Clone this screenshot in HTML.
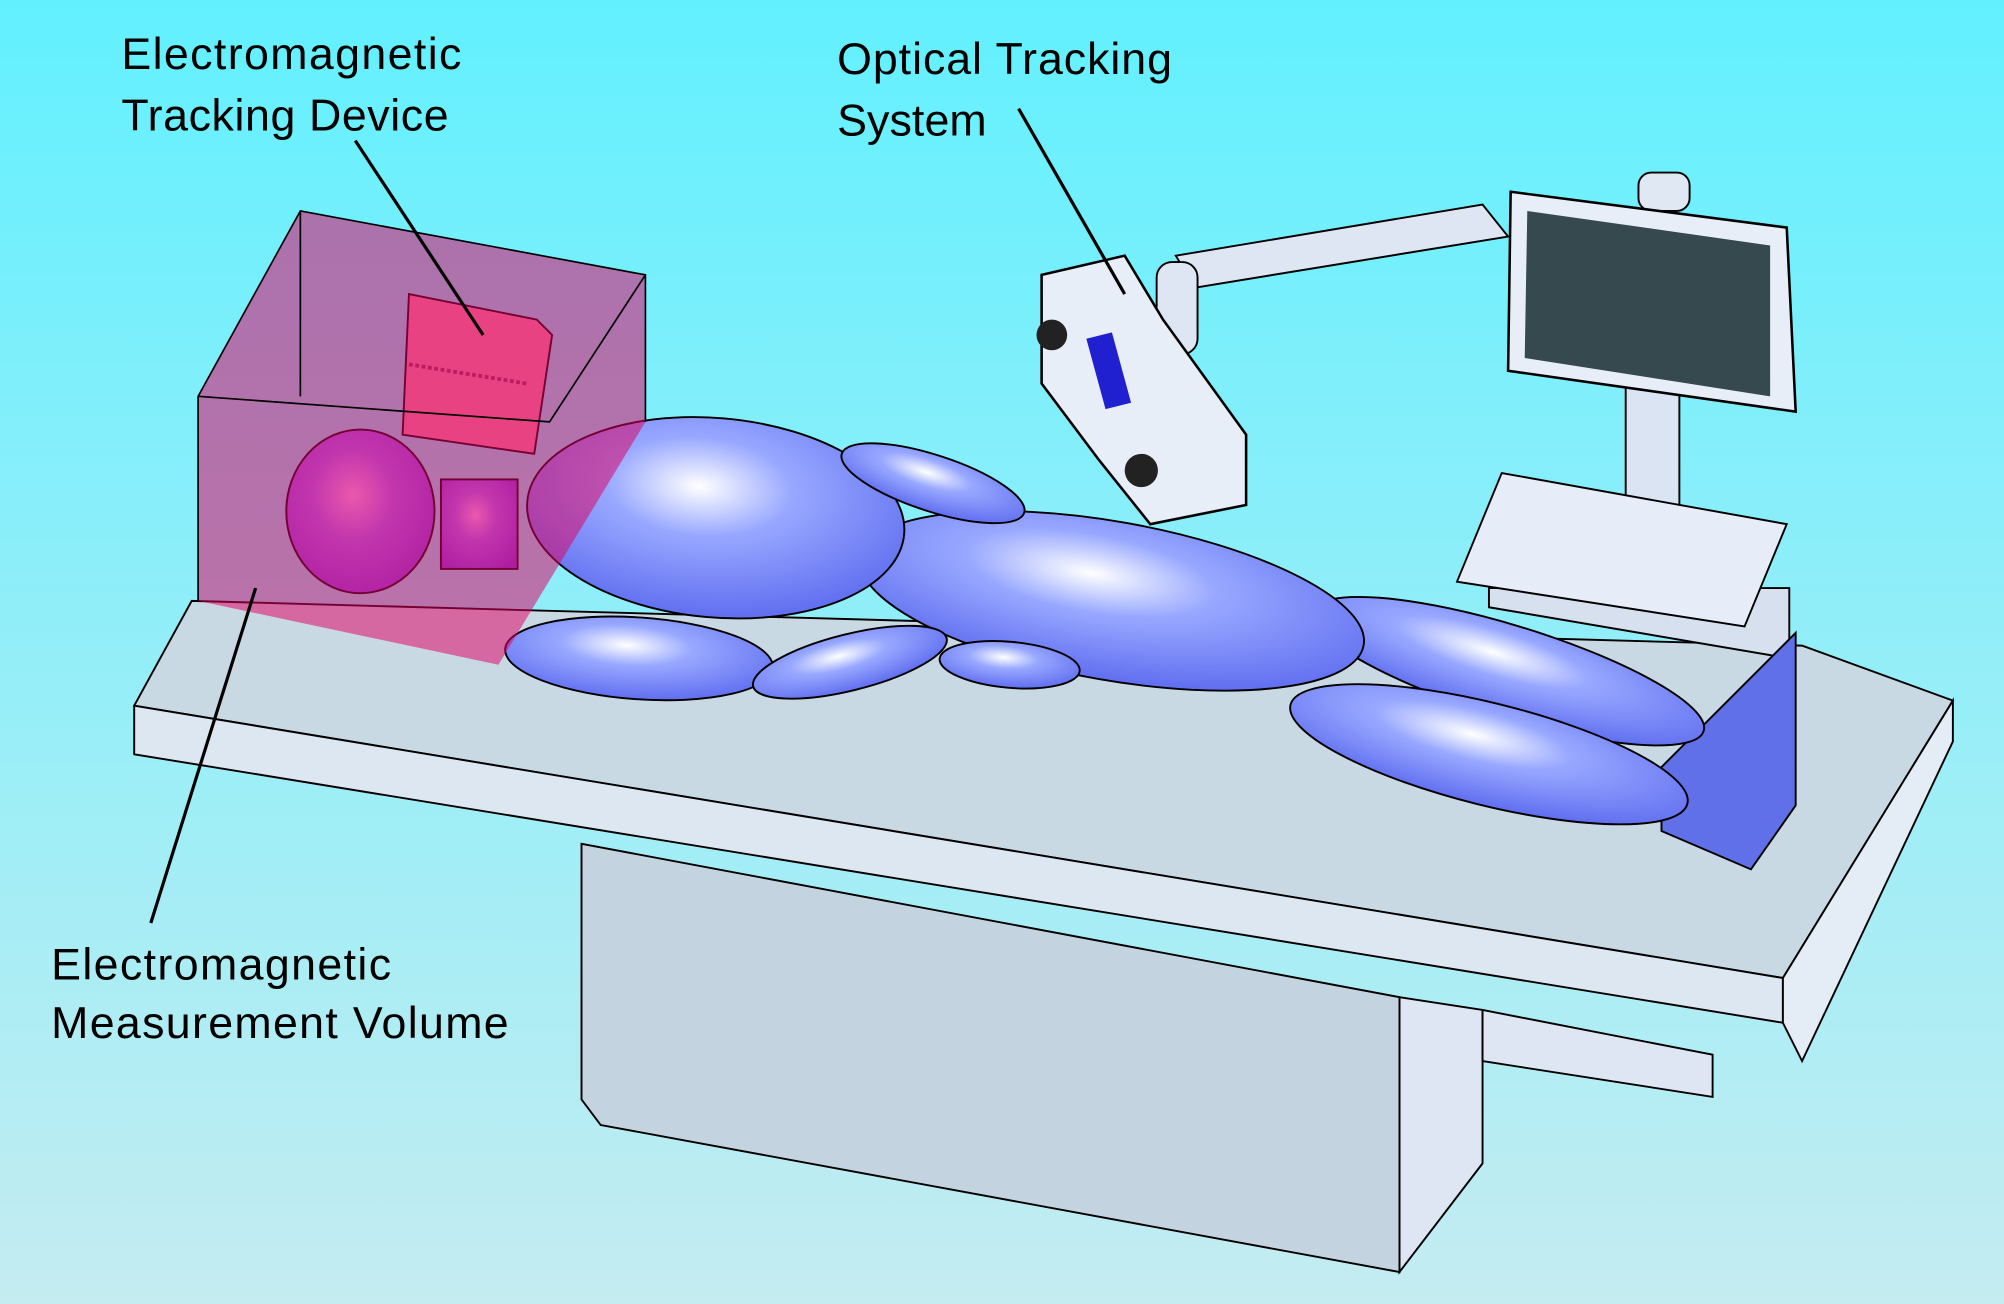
<!DOCTYPE html>
<html><head><meta charset="utf-8"><style>
html,body{margin:0;padding:0;width:2004px;height:1304px;overflow:hidden}
svg{display:block}
text{font-family:"Liberation Sans",sans-serif;font-size:35px;fill:#000}
</style></head><body>
<svg width="2004" height="1304" viewBox="0 0 1568 1020" preserveAspectRatio="none" xmlns="http://www.w3.org/2000/svg">
<defs>
<linearGradient id="bg" x1="0" y1="0" x2="0" y2="1"><stop offset="0" stop-color="#62f0ff"/><stop offset="1" stop-color="#c4ecf1"/></linearGradient>
<radialGradient id="blue" cx="0.45" cy="0.35" r="0.7"><stop offset="0" stop-color="#ffffff"/><stop offset="0.35" stop-color="#98a8ff"/><stop offset="1" stop-color="#5a68ee"/></radialGradient>
<radialGradient id="purp" cx="0.45" cy="0.4" r="0.7"><stop offset="0" stop-color="#f6b8ff"/><stop offset="0.4" stop-color="#a070ff"/><stop offset="1" stop-color="#7a40e8"/></radialGradient>
</defs>
<rect width="1568" height="1020" fill="url(#bg)"/>
<polygon points="1095,780 1160,790 1160,910 1095,995" fill="#dde6f2" stroke="#000" stroke-width="1.5"/>
<polygon points="455,660 1095,780 1095,995 470,880 455,860" fill="#c3d4e0" stroke="#000" stroke-width="1.5"/>
<polygon points="1160,790 1340,825 1340,858 1160,830" fill="#dde6f2" stroke="#000" stroke-width="1.5"/>
<polygon points="105,552 150,470 1410,505 1528,548 1395,765" fill="#c9d9e3" stroke="#000" stroke-width="1.5"/>
<polygon points="105,552 1395,765 1395,800 105,590" fill="#dde7f1" stroke="#000" stroke-width="1.5"/>
<polygon points="1395,765 1528,548 1528,580 1410,830 1395,800" fill="#e4ecf6" stroke="#000" stroke-width="1.5"/>
<rect x="1272" y="290" width="42" height="110" fill="#dbe4f2" stroke="#000" stroke-width="1.5"/>
<polygon points="1165,460 1400,460 1400,515 1165,475" fill="#d6e0ee" stroke="#000" stroke-width="1.5"/>
<polygon points="1140,455 1175,370 1398,410 1365,490" fill="#e6edf8" stroke="#000" stroke-width="1.5"/>
<rect x="1282" y="135" width="40" height="30" rx="10" fill="#e0e8f4" stroke="#000" stroke-width="1.5"/>
<polygon points="1182,150 1398,178 1405,322 1180,290" fill="#e8eef8" stroke="#000" stroke-width="2"/>
<polygon points="1195,165 1385,192 1385,310 1193,280" fill="#36494e"/>
<polygon points="920,200 1160,160 1180,185 935,225" fill="#dde6f2" stroke="#000" stroke-width="1.5"/>
<rect x="905" y="205" width="32" height="72" rx="12" fill="#dde6f2" stroke="#000" stroke-width="1.5"/>
<polygon points="815,215 880,200 910,250 975,340 975,395 900,410 860,360 815,300" fill="#e8eef8" stroke="#000" stroke-width="2"/>
<polygon points="850,265 870,260 885,315 865,320" fill="#2020d0"/>
<circle cx="823" cy="262" r="12" fill="#222"/>
<circle cx="893" cy="368" r="13" fill="#222"/>
<g stroke="#000" stroke-width="1.5">
<polygon points="1300,600 1385,515 1405,495 1405,630 1370,680 1300,650" fill="#6070e8"/>
<ellipse cx="1180" cy="525" rx="160" ry="36" fill="url(#blue)" transform="rotate(17 1180 525)"/>
<ellipse cx="1165" cy="590" rx="160" ry="40" fill="url(#blue)" transform="rotate(14 1165 590)"/>
<ellipse cx="870" cy="470" rx="200" ry="62" fill="url(#blue)" transform="rotate(10 870 470)"/>
<ellipse cx="560" cy="405" rx="148" ry="78" fill="url(#blue)" transform="rotate(5 560 405)"/>
<ellipse cx="730" cy="378" rx="75" ry="22" fill="url(#blue)" transform="rotate(18 730 378)"/>
<ellipse cx="500" cy="515" rx="105" ry="32" fill="url(#blue)" transform="rotate(4 500 515)"/>
<ellipse cx="790" cy="520" rx="55" ry="18" fill="url(#blue)" transform="rotate(5 790 520)"/>
<ellipse cx="665" cy="518" rx="78" ry="22" fill="url(#blue)" transform="rotate(-14 665 518)"/>
<rect x="345" y="375" width="60" height="70" fill="url(#purp)"/>
<ellipse cx="282" cy="400" rx="58" ry="64" fill="url(#purp)"/>
</g>
<polygon points="320,230 420,250 432,262 418,355 315,340" fill="#f08aa8" stroke="#000" stroke-width="1.5"/>
<line x1="320" y1="285" x2="412" y2="300" stroke="#904060" stroke-width="3" stroke-dasharray="3 2"/>
<polygon points="155,310 235,165 505,215 505,330 390,520 155,470" fill="#e00062" fill-opacity="0.52"/>
<g stroke="#000" stroke-width="1.3" fill="none">
<polyline points="155,470 155,310 235,165 505,215 505,330"/>
<polyline points="155,310 430,330 505,215"/>
<line x1="235" y1="165" x2="235" y2="310"/>
</g>
<g stroke="#000" stroke-width="2.5">
<line x1="278" y1="110" x2="378" y2="262"/>
<line x1="797" y1="85" x2="880" y2="230"/>
<line x1="200" y1="460" x2="118" y2="722"/>
</g>
<text x="95" y="54" textLength="266">Electromagnetic</text>
<text x="95" y="102" textLength="256">Tracking Device</text>
<text x="655" y="58" textLength="262">Optical Tracking</text>
<text x="655" y="106" textLength="117">System</text>
<text x="40" y="766" textLength="266">Electromagnetic</text>
<text x="40" y="812" textLength="358">Measurement Volume</text>
</svg>
</body></html>
